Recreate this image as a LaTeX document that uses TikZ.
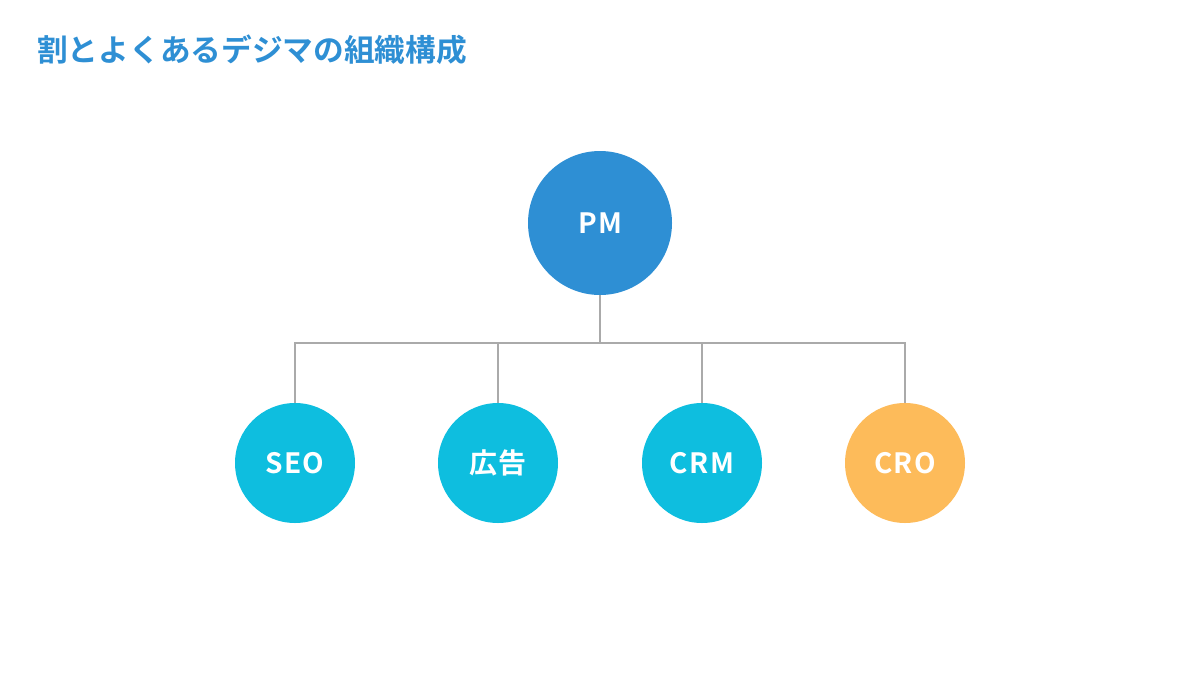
\documentclass[tikz,border=0pt]{standalone}
\usepackage{fontspec}
\setmainfont{Noto Sans CJK JP}[BoldFont={* Bold}]
\newfontfamily\labelfont{Noto Sans CJK JP Bold}[LetterSpace=5]
\definecolor{pmblue}{HTML}{2E8FD4}
\definecolor{teamcyan}{HTML}{0EBEDF}
\definecolor{croorange}{HTML}{FDBB5A}
\definecolor{linegray}{HTML}{AAAAAA}
\tikzset{
  member/.style={circle, minimum size=120pt, inner sep=0pt, fill=teamcyan,
    text=white, font=\labelfont\fontsize{28}{32}\selectfont},
  link/.style={draw=linegray, line width=1.6pt}
}
\begin{document}
\begin{tikzpicture}[x=1pt, y=-1pt]
\useasboundingbox (0,0) rectangle (1200,675);
\node[anchor=west, inner sep=0pt, text=pmblue, font=\fontsize{30.7}{35}\selectfont\bfseries] (title) at (37,50) {割とよくあるデジマの組織構成};

\node[member, fill=pmblue, minimum size=144pt] (pm) at (600,223) {PM};
\node[member] (seo) at (295,463) {SEO};
\node[member] (ad) at (498,463) {広告};
\node[member] (crm) at (702,463) {CRM};
\node[member, fill=croorange] (cro) at (905,463) {CRO};

\coordinate (bus) at (600,343);
\draw[link] (pm) -- (bus);
\draw[link] (seo.north) |- (bus);
\draw[link] (ad.north) |- (bus);
\draw[link] (crm.north) |- (bus);
\draw[link] (cro.north) |- (bus);
\end{tikzpicture}
\end{document}
